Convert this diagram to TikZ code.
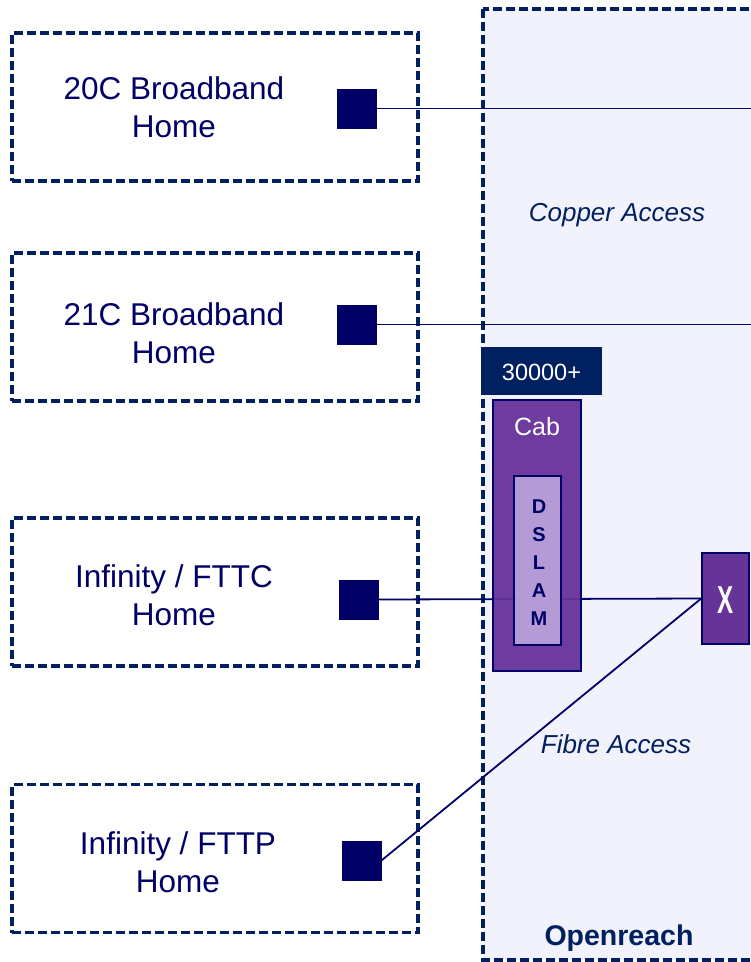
\documentclass[tikz,border=0pt]{standalone}
\usepackage{fontspec}
\setmainfont{Liberation Sans}
\definecolor{navyb}{RGB}{0,32,96}
\definecolor{navyt}{RGB}{0,0,102}
\definecolor{orfill}{RGB}{242,242,252}
\definecolor{purp}{RGB}{102,51,153}
\definecolor{lav}{RGB}{187,164,218}
\begin{document}
\begin{tikzpicture}[x=1pt,y=-1pt,
  home/.style={draw=navyb, line width=3.2pt, dash pattern=on 9pt off 4pt, fill=white,
    minimum width=406pt, minimum height=148pt, inner sep=0pt},
  hometext/.style={text=navyt, align=center, font=\fontsize{31.5}{38}\selectfont, inner sep=0pt},
  sq/.style={fill=navyt, draw=navyt, line width=0.8pt, minimum size=39pt, inner sep=0pt},
  link/.style={draw=navyt, line width=1.8pt},
  areatext/.style={text=navyb, font=\fontsize{26}{30}\selectfont\itshape, inner sep=0pt},
  purpbox/.style={fill=purp, draw=navyt, line width=1.6pt, inner sep=0pt}]
\useasboundingbox (0,0) rectangle (751,962);
\clip (0,0) rectangle (751,962);
% Openreach area
\draw[fill=orfill, draw=navyb, line width=3.2pt, dash pattern=on 9pt off 4pt]
  (483,9) rectangle (770,960);
\node[font=\fontsize{28.5}{32}\selectfont\bfseries, text=navyb, inner sep=0pt] (ortitle) at (619,938) {Openreach};
\node[areatext] (copper) at (617,215) {Copper Access};
\node[areatext] (fibre) at (616,744) {Fibre Access};
% homes
\node[home] (h1) at (215,107) {};
\node[home] (h2) at (215,327) {};
\node[home] (h3) at (215,592) {};
\node[home] (h4) at (215,858.5) {};
\node[hometext] (t1) at (174,107) {20C Broadband\\Home};
\node[hometext] (t2) at (174,333) {21C Broadband\\Home};
\node[hometext] (t3) at (174,595) {Infinity / FTTC\\Home};
\node[hometext] (t4) at (178,862) {Infinity / FTTP\\Home};
% squares
\node[sq] (s1) at (356.5,108.5) {};
\node[sq] (s2) at (356.5,324.5) {};
\node[sq] (s3) at (358.5,599.5) {};
\node[sq] (s4) at (361.5,860.5) {};
% X node
\node[purpbox, minimum width=47pt, minimum height=91pt] (x) at (725.5,598.5) {};
\node[text=white, font=\fontsize{39}{39}\selectfont\bfseries, xscale=0.62, inner sep=0pt] (xl) at (725.5,600) {X};
\coordinate (e1) at (770,107);
\coordinate (e2) at (770,324);
% connectors
\draw[link] (s1.east) -- (s1.east -| e1);
\draw[link] (s2.east) -- (s2.east -| e2);
\draw[link] (s3.east) -- (x.west);
\draw[link] (s4.east) -- (x.west);
% Cab and DSLAM
\node[purpbox, fill opacity=0.95, minimum width=88pt, minimum height=271pt] (cab) at (537,535.5) {};
\node[text=white, font=\fontsize{25}{30}\selectfont, inner sep=0pt] (cabl) at (537,427) {Cab};
\node[fill=lav, draw=navyt, line width=1.6pt, fill opacity=0.92, minimum width=47pt, minimum height=169pt, inner sep=0pt] (dslam) at (537.5,560.5) {};
\node[text=navyt, align=center, font=\fontsize{20}{28}\selectfont\bfseries, inner sep=0pt] (dsl) at (539,563) {D\\S\\L\\A\\M};
% 30000+
\node[fill=navyb, minimum width=121pt, minimum height=48pt, inner sep=0pt] (cnt) at (541.5,371) {};
\node[text=white, font=\fontsize{23.5}{28}\selectfont, inner sep=0pt] (cntl) at (541.5,372) {30000+};
\end{tikzpicture}
\end{document}
